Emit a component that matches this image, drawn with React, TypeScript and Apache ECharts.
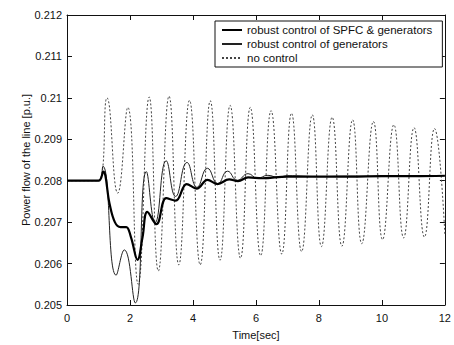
import React, { useEffect, useRef } from "react";
import * as echarts from "echarts";

// Time [sec], power flow [p.u.] (extrema and turning points)
const spfcGen: [number, number][] = [
  [0, 0.208], [1.0, 0.208], [1.15, 0.20822], [1.35, 0.20745], [1.52, 0.207],
  [1.7, 0.20688], [1.88, 0.20688], [2.03, 0.20664], [2.24, 0.20609], [2.4, 0.20664],
  [2.55, 0.20725], [2.84, 0.20695], [3.15, 0.20758], [3.45, 0.20752], [3.8, 0.20792],
  [4.12, 0.20781], [4.46, 0.20802], [4.78, 0.20792], [5.15, 0.20803], [5.43, 0.20799],
  [5.75, 0.20808], [6.2, 0.20806], [7, 0.2081], [8, 0.2081], [9, 0.2081],
  [10, 0.20811], [11, 0.20811], [12, 0.20812],
];

const generators: [number, number][] = [
  [0, 0.208], [1.0, 0.208], [1.14, 0.20835], [1.56, 0.20572], [1.82, 0.20633],
  [2.17, 0.20505], [2.52, 0.20822], [2.8, 0.20699], [3.15, 0.20848], [3.45, 0.20762],
  [3.81, 0.20844], [4.13, 0.20784], [4.46, 0.2083], [4.79, 0.20793], [5.1, 0.20823],
  [5.41, 0.20801], [5.75, 0.20817], [6.05, 0.20806], [6.38, 0.20813], [6.7, 0.20808],
  [7.0, 0.20812], [8, 0.2081], [9, 0.20811], [10, 0.2081], [11, 0.20812], [12, 0.20812],
];

const noControl: [number, number][] = [
  [0, 0.208], [1.0, 0.208], [1.27, 0.21], [1.61, 0.2077], [1.93, 0.20977],
  [2.26, 0.2055], [2.61, 0.21002], [2.9, 0.20582], [3.24, 0.21004], [3.55, 0.20597],
  [3.89, 0.20994], [4.23, 0.20597], [4.55, 0.20993], [4.86, 0.20608], [5.18, 0.20982],
  [5.51, 0.20613], [5.82, 0.20977], [6.15, 0.20619], [6.48, 0.20969], [6.82, 0.20623],
  [7.13, 0.20963], [7.45, 0.20629], [7.79, 0.20959], [8.08, 0.20641], [8.42, 0.20953],
  [8.73, 0.20642], [9.07, 0.20947], [9.36, 0.20648], [9.73, 0.20943], [10.02, 0.20658],
  [10.38, 0.20935], [10.69, 0.20662], [11.02, 0.20928], [11.35, 0.20664], [11.67, 0.20926],
  [12.0, 0.2067],
];

const seriesNames = [
  "robust control of SPFC & generators",
  "robust control of generators",
  "no control",
];

const xTicks = { min: 0, max: 12, interval: 2 };
const yTicks = { min: 0.205, max: 0.212, interval: 0.001 };

const FONT = "Liberation Sans";

export default function App() {
  const ref = useRef<HTMLDivElement>(null);
  useEffect(() => {
    document.body.style.margin = "0";
    const chart = echarts.init(ref.current!, undefined, { renderer: "svg" });
    const yFmt = (v: number) => String(parseFloat(v.toFixed(3)));
    const axisCommon = {
      axisLine: { show: true, onZero: false, lineStyle: { color: "#111", width: 1 } },
      axisTick: { show: true, inside: true, length: 5, lineStyle: { color: "#111" } },
      splitLine: { show: false },
    };
    chart.setOption({
      animation: false,
      backgroundColor: "#fff",
      grid: { left: 67, right: 5, top: 15, bottom: 32 },
      legend: {
        orient: "vertical",
        left: 215,
        top: 21,
        padding: [3, 10, 3, 6],
        itemWidth: 20,
        itemHeight: 8,
        itemGap: 2,
        backgroundColor: "#fff",
        borderColor: "#111",
        borderWidth: 1,
        borderRadius: 0,
        itemStyle: { opacity: 0 },
        textStyle: { fontFamily: FONT, fontSize: 11.5, color: "#111", lineHeight: 10 },
        data: seriesNames,
      },
      xAxis: [
        {
          type: "value",
          ...xTicks,
          ...axisCommon,
          name: "Time[sec]",
          nameLocation: "middle",
          nameGap: 24,
          nameMoveOverlap: false,
          nameTextStyle: { fontFamily: FONT, fontSize: 11, color: "#111" },
          axisLabel: { fontFamily: FONT, fontSize: 11, color: "#111", margin: 7 },
        },
        {
          type: "value",
          position: "top",
          ...xTicks,
          ...axisCommon,
          axisLabel: { show: false },
        },
      ],
      yAxis: [
        {
          type: "value",
          ...yTicks,
          ...axisCommon,
          name: "Power flow of the line [p.u.]",
          nameLocation: "middle",
          nameGap: 36,
          nameMoveOverlap: false,
          nameTextStyle: { fontFamily: FONT, fontSize: 11, color: "#111" },
          axisLabel: { fontFamily: FONT, fontSize: 11, color: "#111", margin: 5, formatter: yFmt },
        },
        {
          type: "value",
          position: "right",
          ...yTicks,
          ...axisCommon,
          axisLabel: { show: false },
        },
      ],
      series: [
        {
          name: seriesNames[2],
          type: "line",
          data: noControl,
          smooth: 0.5,
          symbol: "none",
          color: "#444",
          itemStyle: { color: "#444" },
          lineStyle: { color: "#444", width: 1, type: [2, 2] },
          z: 1,
        },
        {
          name: seriesNames[1],
          type: "line",
          data: generators,
          smooth: 0.5,
          symbol: "none",
          color: "#222",
          itemStyle: { color: "#222" },
          lineStyle: { color: "#222", width: 1 },
          z: 2,
        },
        {
          name: seriesNames[0],
          type: "line",
          data: spfcGen,
          smooth: 0.4,
          symbol: "none",
          color: "#000",
          itemStyle: { color: "#000" },
          lineStyle: { color: "#000", width: 2.2 },
          z: 3,
        },
      ],
    });
    return () => chart.dispose();
  }, []);
  return <div ref={ref} style={{ width: 454, height: 345 }} />;
}
